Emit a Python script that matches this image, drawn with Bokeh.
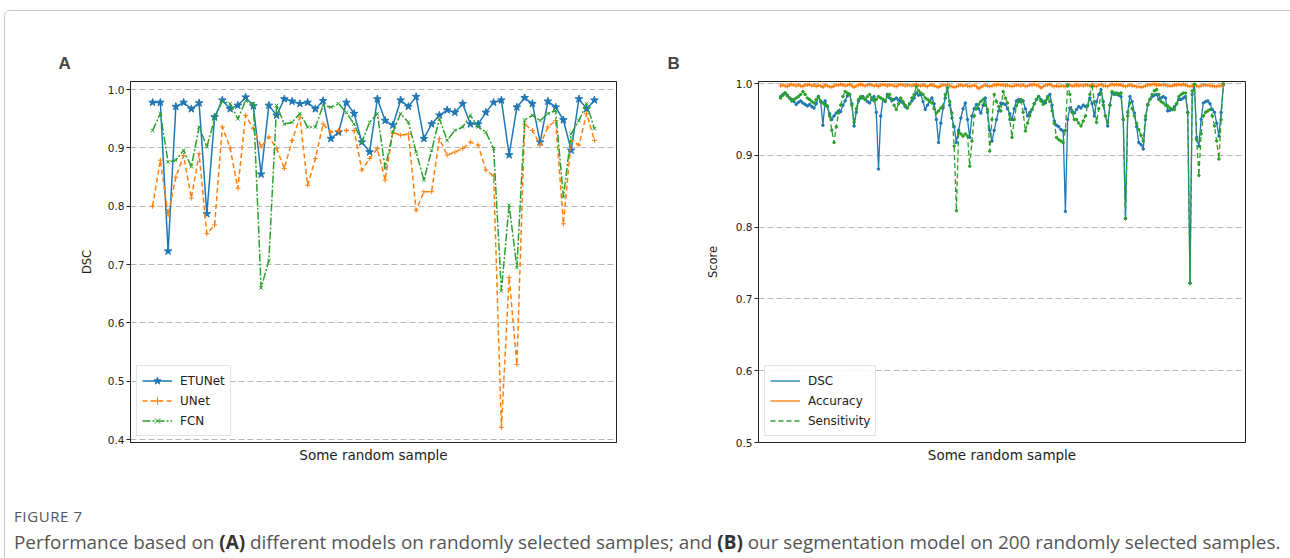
from bokeh.plotting import figure
from bokeh.models import Range1d, FixedTicker, NumeralTickFormatter, Div, Legend, LegendItem
from bokeh.layouts import row, column
from bokeh.embed import file_html
from bokeh.resources import INLINE

# ---------------- Panel A data (58 random samples) ----------------
etunet = [0.978, 0.978, 0.723, 0.971, 0.978, 0.967, 0.977, 0.787, 0.953, 0.982,
          0.967, 0.973, 0.987, 0.972, 0.855, 0.973, 0.956, 0.984, 0.980, 0.976,
          0.978, 0.967, 0.981, 0.916, 0.927, 0.978, 0.959, 0.910, 0.893, 0.984,
          0.947, 0.939, 0.982, 0.971, 0.988, 0.916, 0.941, 0.956, 0.965, 0.961,
          0.976, 0.941, 0.941, 0.961, 0.978, 0.982, 0.888, 0.970, 0.986, 0.976,
          0.910, 0.980, 0.970, 0.948, 0.896, 0.984, 0.967, 0.982]
unet = [0.800, 0.879, 0.785, 0.850, 0.887, 0.814, 0.890, 0.753, 0.768, 0.936,
        0.900, 0.831, 0.956, 0.933, 0.902, 0.919, 0.899, 0.865, 0.913, 0.953,
        0.836, 0.882, 0.941, 0.927, 0.930, 0.930, 0.930, 0.862, 0.882, 0.899,
        0.845, 0.927, 0.922, 0.924, 0.793, 0.825, 0.825, 0.916, 0.888, 0.893,
        0.899, 0.910, 0.905, 0.862, 0.852, 0.421, 0.678, 0.529, 0.941, 0.930,
        0.905, 0.936, 0.947, 0.770, 0.913, 0.905, 0.959, 0.913]
fcn = [0.930, 0.959, 0.876, 0.879, 0.896, 0.868, 0.936, 0.902, 0.950, 0.981,
       0.976, 0.950, 0.981, 0.976, 0.660, 0.707, 0.973, 0.941, 0.944, 0.959,
       0.936, 0.936, 0.973, 0.970, 0.976, 0.961, 0.941, 0.910, 0.944, 0.959,
       0.865, 0.927, 0.959, 0.944, 0.893, 0.845, 0.896, 0.950, 0.913, 0.930,
       0.936, 0.956, 0.936, 0.927, 0.899, 0.655, 0.802, 0.695, 0.948, 0.956,
       0.947, 0.959, 0.964, 0.816, 0.924, 0.947, 0.976, 0.933]
ticks_a = [0.4, 0.5, 0.6, 0.7, 0.8, 0.9, 1.0]

# ---------------- Panel B data (200 random samples) ----------------
dsc = [0.982, 0.985, 0.987, 0.984, 0.980, 0.978, 0.975, 0.971, 0.974, 0.976,
       0.973, 0.971, 0.969, 0.971, 0.968, 0.966, 0.972, 0.982, 0.975, 0.942,
       0.976, 0.968, 0.958, 0.950, 0.955, 0.959, 0.962, 0.961, 0.970, 0.976,
       0.983, 0.985, 0.972, 0.941, 0.960, 0.976, 0.980, 0.982, 0.978, 0.975,
       0.973, 0.978, 0.982, 0.960, 0.881, 0.955, 0.978, 0.975, 0.985, 0.980,
       0.976, 0.978, 0.980, 0.977, 0.975, 0.973, 0.968, 0.966, 0.972, 0.976,
       0.980, 0.987, 0.984, 0.985, 0.975, 0.964, 0.970, 0.976, 0.980, 0.972,
       0.950, 0.918, 0.945, 0.966, 0.980, 0.994, 0.970, 0.952, 0.940, 0.918,
       0.935, 0.952, 0.965, 0.973, 0.950, 0.925, 0.955, 0.965, 0.971, 0.965,
       0.959, 0.970, 0.980, 0.960, 0.935, 0.920, 0.935, 0.950, 0.962, 0.973,
       0.972, 0.971, 0.965, 0.958, 0.950, 0.965, 0.976, 0.978, 0.975, 0.976,
       0.965, 0.955, 0.960, 0.964, 0.972, 0.978, 0.982, 0.978, 0.975, 0.973,
       0.980, 0.985, 0.970, 0.948, 0.942, 0.940, 0.936, 0.934, 0.822, 0.950,
       0.966, 0.962, 0.959, 0.964, 0.968, 0.966, 0.970, 0.968, 0.969, 0.980,
       0.972, 0.955, 0.975, 0.985, 0.992, 0.975, 0.955, 0.941, 0.970, 0.987,
       0.985, 0.987, 0.984, 0.982, 0.950, 0.812, 0.960, 0.982, 0.975, 0.959,
       0.940, 0.918, 0.915, 0.909, 0.950, 0.971, 0.978, 0.982, 0.984, 0.985,
       0.978, 0.980, 0.982, 0.980, 0.962, 0.963, 0.964, 0.968, 0.972, 0.978,
       0.978, 0.980, 0.982, 0.960, 0.722, 0.985, 0.999, 0.925, 0.913, 0.950,
       0.973, 0.975, 0.976, 0.972, 0.964, 0.960, 0.945, 0.927, 0.960, 0.998]
accuracy = [0.997, 0.998, 0.997, 0.996, 0.998, 0.999, 0.998, 0.997, 0.998, 0.997,
            0.996, 0.998, 0.998, 0.999, 0.997, 0.998, 0.996, 0.998, 0.997, 0.995,
            0.998, 0.997, 0.996, 0.995, 0.997, 0.998, 0.998, 0.999, 0.998, 0.997,
            0.998, 0.999, 0.997, 0.995, 0.997, 0.998, 0.999, 0.998, 0.997, 0.998,
            0.999, 0.998, 0.997, 0.998, 0.996, 0.998, 0.999, 0.998, 0.997, 0.998,
            0.998, 0.997, 0.996, 0.998, 0.999, 0.998, 0.997, 0.998, 0.998, 0.997,
            0.998, 0.999, 0.998, 0.997, 0.998, 0.997, 0.996, 0.998, 0.998, 0.997,
            0.996, 0.995, 0.997, 0.998, 0.998, 0.999, 0.997, 0.996, 0.995, 0.996,
            0.997, 0.998, 0.997, 0.998, 0.997, 0.996, 0.997, 0.998, 0.996, 0.993,
            0.995, 0.997, 0.998, 0.997, 0.996, 0.997, 0.998, 0.998, 0.999, 0.998,
            0.998, 0.997, 0.998, 0.997, 0.996, 0.997, 0.998, 0.998, 0.997, 0.998,
            0.996, 0.997, 0.998, 0.998, 0.999, 0.998, 0.997, 0.994, 0.996, 0.998,
            0.998, 0.999, 0.997, 0.996, 0.997, 0.996, 0.997, 0.997, 0.996, 0.998,
            0.998, 0.997, 0.997, 0.998, 0.997, 0.998, 0.997, 0.998, 0.998, 0.997,
            0.999, 0.997, 0.996, 0.998, 0.999, 0.997, 0.997, 0.996, 0.998, 0.999,
            0.998, 0.999, 0.998, 0.998, 0.997, 0.996, 0.997, 0.998, 0.997, 0.997,
            0.996, 0.996, 0.995, 0.996, 0.997, 0.998, 0.998, 0.999, 0.999, 0.998,
            0.998, 0.998, 0.999, 0.998, 0.997, 0.997, 0.997, 0.998, 0.998, 0.999,
            0.998, 0.999, 0.998, 0.997, 0.996, 0.997, 0.998, 0.997, 0.996, 0.997,
            0.998, 0.998, 0.998, 0.997, 0.997, 0.996, 0.996, 0.997, 0.997, 0.998]
sensitivity = [0.980, 0.984, 0.987, 0.983, 0.980, 0.976, 0.978, 0.980, 0.982, 0.985,
               0.989, 0.985, 0.980, 0.978, 0.975, 0.973, 0.978, 0.982, 0.976, 0.973,
               0.970, 0.969, 0.955, 0.935, 0.918, 0.940, 0.959, 0.970, 0.982, 0.989,
               0.987, 0.985, 0.970, 0.946, 0.965, 0.978, 0.982, 0.980, 0.978, 0.982,
               0.985, 0.980, 0.976, 0.978, 0.982, 0.980, 0.978, 0.976, 0.982, 0.985,
               0.978, 0.970, 0.964, 0.972, 0.980, 0.975, 0.970, 0.966, 0.972, 0.980,
               0.985, 0.996, 0.990, 0.987, 0.985, 0.980, 0.978, 0.975, 0.973, 0.965,
               0.959, 0.962, 0.966, 0.969, 0.985, 0.994, 0.975, 0.959, 0.913, 0.823,
               0.932, 0.930, 0.927, 0.930, 0.927, 0.885, 0.920, 0.955, 0.965, 0.971,
               0.975, 0.978, 0.970, 0.964, 0.906, 0.950, 0.985, 0.975, 0.968, 0.962,
               0.989, 0.980, 0.973, 0.950, 0.925, 0.950, 0.969, 0.975, 0.978, 0.960,
               0.934, 0.945, 0.955, 0.964, 0.972, 0.978, 0.982, 0.976, 0.971, 0.976,
               0.982, 0.975, 0.962, 0.945, 0.925, 0.922, 0.920, 0.918, 0.935, 0.998,
               0.985, 0.960, 0.950, 0.950, 0.945, 0.941, 0.948, 0.955, 0.970, 0.985,
               0.996, 0.975, 0.946, 0.965, 0.987, 0.970, 0.955, 0.946, 0.970, 0.989,
               0.987, 0.985, 0.986, 0.987, 0.950, 0.812, 0.955, 0.973, 0.965, 0.955,
               0.945, 0.936, 0.928, 0.920, 0.955, 0.970, 0.978, 0.985, 0.990, 0.992,
               0.985, 0.975, 0.973, 0.970, 0.969, 0.966, 0.964, 0.964, 0.972, 0.982,
               0.985, 0.987, 0.987, 0.960, 0.722, 0.990, 0.999, 0.922, 0.872, 0.930,
               0.955, 0.960, 0.962, 0.964, 0.955, 0.941, 0.920, 0.895, 0.950, 1.000]
ticks_b = [0.5, 0.6, 0.7, 0.8, 0.9, 1.0]

BLUE, ORANGE, GREEN = "#1f77b4", "#ff7f0e", "#2ca02c"
TICK_FONT = "DejaVu Sans"


def style_panel(p, letter, letter_offset, ylabel, ticks, ylabel_standoff, legend_items):
    p.title.text = letter
    p.title.text_font = "Liberation Sans"
    p.title.text_font_size = "17px"
    p.title.text_font_style = "bold"
    p.title.align = "left"
    p.title.offset = letter_offset
    p.title.standoff = 17
    p.outline_line_color = "#222222"
    p.outline_line_width = 1
    p.xgrid.visible = False
    tk = FixedTicker(ticks=ticks)
    p.yaxis.ticker = tk
    p.ygrid.ticker = tk
    p.ygrid.grid_line_color = "#b8b8b8"
    p.ygrid.grid_line_dash = "6 3"
    p.ygrid.grid_line_width = 1
    p.yaxis.formatter = NumeralTickFormatter(format="0.0")
    p.yaxis.major_label_text_font = TICK_FONT
    p.yaxis.major_label_text_font_size = "10.5px"
    p.yaxis.major_label_text_color = "#222222"
    p.yaxis.major_tick_out = 4
    p.yaxis.major_tick_in = 0
    p.yaxis.minor_tick_out = 0
    p.yaxis.minor_tick_in = 0
    p.yaxis.major_label_standoff = 2
    p.yaxis.axis_line_color = "#222222"
    p.yaxis.major_tick_line_color = "#222222"
    p.yaxis.axis_label = ylabel
    p.yaxis.axis_label_text_font = TICK_FONT
    p.yaxis.axis_label_text_font_size = "11.5px"
    p.yaxis.axis_label_text_font_style = "normal"
    p.yaxis.axis_label_text_color = "#222222"
    p.yaxis.axis_label_standoff = ylabel_standoff
    p.xaxis.ticker = FixedTicker(ticks=[])
    p.xaxis.major_tick_out = 0
    p.xaxis.major_tick_in = 0
    p.xaxis.minor_tick_out = 0
    p.xaxis.minor_tick_in = 0
    p.xaxis.axis_line_color = "#222222"
    p.xaxis.axis_label = "Some random sample"
    p.xaxis.axis_label_text_font = TICK_FONT
    p.xaxis.axis_label_text_font_size = "13.5px"
    p.xaxis.axis_label_text_font_style = "normal"
    p.xaxis.axis_label_text_color = "#222222"
    p.xaxis.axis_label_standoff = 4
    legend = Legend(items=legend_items, location="bottom_left")
    legend.margin = 6
    legend.padding = 5
    legend.spacing = 1
    legend.glyph_width = 30
    legend.glyph_height = 19
    legend.label_height = 19
    legend.label_standoff = 8
    legend.label_text_font = TICK_FONT
    legend.label_text_font_size = "12px"
    legend.label_text_color = "#222222"
    legend.border_line_color = "#cccccc"
    legend.background_fill_alpha = 0.85
    p.add_layout(legend)


# ---------------- Panel A ----------------
xa = list(range(len(etunet)))
na = len(etunet) - 1
pa = figure(width=635, height=459, output_backend="svg", toolbar_location=None,
            x_range=Range1d(-0.05 * na, na * 1.05), y_range=Range1d(0.395, 1.014),
            min_border_left=125, min_border_right=24, min_border_top=70, min_border_bottom=28)
la1 = pa.line(xa, etunet, color=BLUE, line_width=1.5)
sa1 = pa.scatter(xa, etunet, marker="star", size=8, color=BLUE)
la2 = pa.line(xa, unet, color=ORANGE, line_width=1.5, line_dash="5 3")
sa2 = pa.scatter(xa, unet, marker="cross", size=5, color=ORANGE)
la3 = pa.line(xa, fcn, color=GREEN, line_width=1.5, line_dash="8 2 2 2")
sa3 = pa.scatter(xa, fcn, marker="x", size=5, color=GREEN)
style_panel(pa, "A", -72, "DSC", ticks_a, 11,
            [LegendItem(label="ETUNet", renderers=[la1, sa1]),
             LegendItem(label="UNet", renderers=[la2, sa2]),
             LegendItem(label="FCN", renderers=[la3, sa3])])

# ---------------- Panel B ----------------
xb = list(range(len(dsc)))
nb = len(dsc) - 1
pb = figure(width=645, height=459, output_backend="svg", toolbar_location=None,
            x_range=Range1d(-0.05 * nb, nb * 1.05), y_range=Range1d(0.5, 1.003),
            min_border_left=118, min_border_right=40, min_border_top=68, min_border_bottom=28)
lb1 = pb.line(xb, dsc, color=BLUE, line_width=1.3)
pb.scatter(xb, dsc, marker="circle", size=2.5, color=BLUE)
lb2 = pb.line(xb, accuracy, color=ORANGE, line_width=1.3)
pb.scatter(xb, accuracy, marker="cross", size=4, color=ORANGE)
lb3 = pb.line(xb, sensitivity, color=GREEN, line_width=1.3, line_dash="5 3")
pb.scatter(xb, sensitivity, marker="circle", size=2.5, color=GREEN)
style_panel(pb, "B", -91, "Score", ticks_b, 13,
            [LegendItem(label="DSC", renderers=[lb1]),
             LegendItem(label="Accuracy", renderers=[lb2]),
             LegendItem(label="Sensitivity", renderers=[lb3])])

caption = Div(width=1280, height=80, text=(
    "<div style=\"font-family:'Open Sans';color:#555555;padding-left:4px;\">"
    "<div style=\"font-size:15px;margin-top:31px;letter-spacing:0.6px;\">FIGURE 7</div>"
    "<div style=\"font-size:18.9px;margin-top:2px;white-space:nowrap;\">Performance based on <b style=\"color:#333\">(A)</b> "
    "different models on randomly selected samples; and <b style=\"color:#333\">(B)</b> "
    "our segmentation model on 200 randomly selected samples.</div></div>"))

frame_style = {"margin-left": "4px", "margin-top": "10px",
               "border-left": "1px solid #c8c8c8", "border-top": "1px solid #c8c8c8",
               "border-right": "1px solid #c8c8c8",
               "border-top-left-radius": "6px", "border-top-right-radius": "6px"}
layout = column(row(pa, pb), caption, styles=frame_style)

open("out.html", "w").write(file_html(layout, INLINE))
